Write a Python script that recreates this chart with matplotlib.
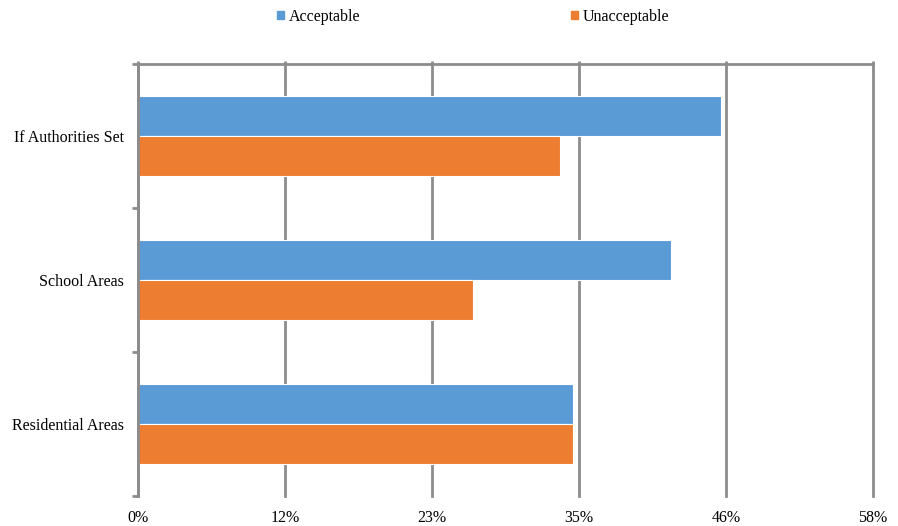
import matplotlib
matplotlib.use('Agg')
import matplotlib.pyplot as plt
from matplotlib.patches import Patch
import numpy as np

plt.rcParams['font.family'] = ['Liberation Serif', 'DejaVu Serif']

# Daten (von unten nach oben)
categories = ['Residential Areas', 'School Areas', 'If Authorities Set']
acceptable = [0.340, 0.417, 0.456]
unacceptable = [0.340, 0.262, 0.330]
tick_values = [0, 0.115, 0.23, 0.345, 0.46, 0.575]
tick_labels = ['0%', '12%', '23%', '35%', '46%', '58%']

blue = '#5B9BD5'
orange = '#ED7D31'
gray = '#8C8C8C'
fs = 11.5

fig = plt.figure(figsize=(8.98, 5.26), dpi=100)
ax = fig.add_axes([138 / 898, 1 - 496 / 526, 735 / 898, 432 / 526])

y = np.arange(len(categories))
h = 0.278
ax.barh(y + h / 2, acceptable, h, color=blue, edgecolor='white', linewidth=0.8, zorder=3)
ax.barh(y - h / 2, unacceptable, h, color=orange, edgecolor='white', linewidth=0.8, zorder=3)

ax.set_xlim(0, 0.575)
ax.set_ylim(-0.5, len(categories) - 0.5)
ax.set_xticks(tick_values)
ax.set_xticklabels(tick_labels, fontsize=fs)
ax.set_yticks(y)
ax.set_yticklabels(categories, fontsize=fs)
ax.set_yticks(np.arange(-0.5, len(categories)), minor=True)

ax.grid(axis='x', color=gray, linewidth=2.0, zorder=1)
for gl in ax.xaxis.get_gridlines():
    gl.set_clip_on(False)
ax.tick_params(axis='x', top=True, bottom=False, labeltop=False, labelbottom=True,
               direction='out', length=2, width=2, color=gray, pad=8)
ax.tick_params(axis='y', which='major', length=0, pad=10)
ax.tick_params(axis='y', which='minor', length=4, width=2, color=gray)

for side in ['right', 'bottom']:
    ax.spines[side].set_visible(False)
for side in ['top', 'left']:
    ax.spines[side].set_color(gray)
    ax.spines[side].set_linewidth(2.0)
    ax.spines[side].set_zorder(4)

handles = [Patch(color=blue, label='Acceptable'), Patch(color=orange, label='Unacceptable')]
fig.legend(handles=handles, loc='center', bbox_to_anchor=(0.527, 0.968), ncol=2,
           frameon=False, fontsize=fs, handlelength=0.45, handleheight=0.45,
           handletextpad=0.3, columnspacing=13.2)

plt.savefig('out.png', dpi=100)
